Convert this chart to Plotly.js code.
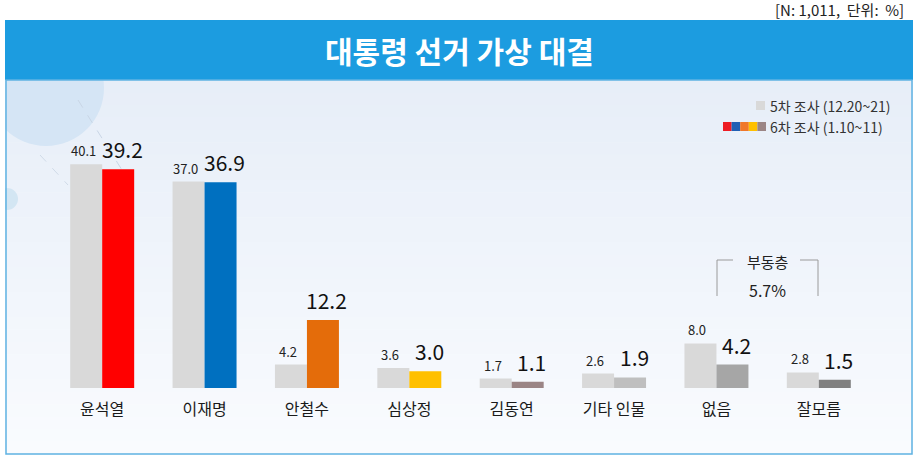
<!DOCTYPE html>
<html>
<head>
<meta charset="utf-8">
<script src="https://cdn.plot.ly/plotly-3.0.1.min.js"></script>
<style>
  body { margin: 0; background: #fff; }
  #plot { width: 919px; height: 458px; }
</style>
</head>
<body>
<div id="plot"></div>
<script>
var categories = ['윤석열', '이재명', '안철수', '심상정', '김동연', '기타 인물', '없음', '잘모름'];
var wave5 = [40.1, 37.0, 4.2, 3.6, 1.7, 2.6, 8.0, 2.8];
var wave6 = [39.2, 36.9, 12.2, 3.0, 1.1, 1.9, 4.2, 1.5];
var wave6Colors = ['#ff0000', '#0070c0', '#e46c0a', '#ffc000', '#9b8585', '#bfbfbf', '#a6a6a6', '#808080'];
var wave5Name = '5차 조사 (12.20~21)';
var wave6Name = '6차 조사 (1.10~11)';
var undecided = '5.7%';

var W = 919, H = 458;
var L = 51, R = 870, T = 137, B = 388;
// pixel -> paper helpers
function px(x) { return (x - L) / (R - L); }
function py(y) { return (B - y) / (B - T); }

var font = '"Noto Sans CJK KR", "Noto Sans", sans-serif';

var trace5 = {
    x: categories,
    y: wave5,
    type: 'bar',
    name: wave5Name,
    marker: { color: '#d9d9d9' },
    hoverinfo: 'skip'
};
var trace6 = {
    x: categories,
    y: wave6,
    type: 'bar',
    name: wave6Name,
    marker: { color: wave6Colors },
    hoverinfo: 'skip'
};

function mix(a, b, t) {
    var c = [0, 2, 4].map(function (k) {
        var va = parseInt(a.substr(1 + k, 2), 16), vb = parseInt(b.substr(1 + k, 2), 16);
        return Math.round(va + (vb - va) * t);
    });
    return 'rgb(' + c.join(',') + ')';
}

var shapes = [];
// panel background, soft vertical gradient
var bands = 30, top0 = 80, bot0 = 454;
for (var k = 0; k < bands; k++) {
    var y0 = top0 + (bot0 - top0) * k / bands;
    var y1 = top0 + (bot0 - top0) * (k + 1) / bands;
    shapes.push({ type: 'rect', xref: 'paper', yref: 'paper', layer: 'below',
        x0: px(5), x1: px(913), y0: py(y1 + 0.5), y1: py(y0),
        fillcolor: mix('#e7eef8', '#f9fbfe', k / (bands - 1)), line: { width: 0 } });
}
// decorative circles
shapes.push({ type: 'circle', xref: 'paper', yref: 'paper', layer: 'below',
    x0: px(-12), x1: px(104), y0: py(146), y1: py(30),
    fillcolor: '#d5e5f5', line: { width: 0 } });
shapes.push({ type: 'circle', xref: 'paper', yref: 'paper', layer: 'below',
    x0: px(-4), x1: px(18), y0: py(210), y1: py(188),
    fillcolor: '#d3e6f3', line: { width: 0 } });
shapes.push({ type: 'line', xref: 'paper', yref: 'paper', layer: 'below',
    x0: px(78), x1: px(122), y0: py(100), y1: py(170),
    line: { color: '#c9d6e6', width: 1, dash: 'dash' } });
shapes.push({ type: 'line', xref: 'paper', yref: 'paper', layer: 'below',
    x0: px(40), x1: px(68), y0: py(155), y1: py(185),
    line: { color: '#d0dbe8', width: 1, dash: 'dash' } });
// white margin left of panel, title bar, panel border
shapes.push({ type: 'rect', xref: 'paper', yref: 'paper', layer: 'below',
    x0: px(-20), x1: px(5), y0: py(458), y1: py(0),
    fillcolor: '#ffffff', line: { width: 0 } });
shapes.push({ type: 'rect', xref: 'paper', yref: 'paper', layer: 'below',
    x0: px(5), x1: px(913), y0: py(80), y1: py(20),
    fillcolor: '#1c9ce0', line: { width: 0 } });
shapes.push({ type: 'rect', xref: 'paper', yref: 'paper', layer: 'below',
    x0: px(6), x1: px(912), y0: py(454), y1: py(80),
    fillcolor: 'rgba(0,0,0,0)', line: { color: '#5fb3e2', width: 1.5 } });
// legend swatch for wave 5
shapes.push({ type: 'rect', xref: 'paper', yref: 'paper',
    x0: px(756), x1: px(765), y0: py(110), y1: py(101),
    fillcolor: '#d9d9d9', line: { width: 0 } });
// coloured mini swatches for wave 6 legend
var legendColors = ['#ed1c24', '#1f5fb4', '#f0782a', '#ffc000', '#9b8585'];
for (var i = 0; i < legendColors.length; i++) {
    shapes.push({ type: 'rect', xref: 'paper', yref: 'paper',
        x0: px(723 + i * 8.6), x1: px(723 + (i + 1) * 8.6), y0: py(131), y1: py(122),
        fillcolor: legendColors[i], line: { width: 0 } });
}
// undecided bracket
shapes.push({ type: 'path', xref: 'paper', yref: 'paper',
    path: 'M ' + px(733) + ' ' + py(260) + ' L ' + px(717) + ' ' + py(260) + ' L ' + px(717) + ' ' + py(296),
    line: { color: '#9a9a9a', width: 1 } });
shapes.push({ type: 'path', xref: 'paper', yref: 'paper',
    path: 'M ' + px(800) + ' ' + py(260) + ' L ' + px(818) + ' ' + py(260) + ' L ' + px(818) + ' ' + py(296),
    line: { color: '#9a9a9a', width: 1 } });

function note(text, x, y, size, color, anchor, weight) {
    return { text: text, xref: 'paper', yref: 'paper', x: px(x), y: py(y),
        xanchor: anchor || 'center', yanchor: 'middle', showarrow: false,
        font: { size: size, color: color, family: font, weight: weight || 'normal' } };
}

var annotations = [
    note('대통령 선거 가상 대결', 459, 50, 30, '#ffffff', 'center', 'bold'),
    note('[N: 1,011,  단위:  %]', 906, 9, 15, '#222', 'right'),
    note(wave5Name, 768, 106, 14, '#333', 'left'),
    note(wave6Name, 768, 127, 14, '#333', 'left'),
    note('부동층', 767, 261, 15, '#222'),
    note(undecided, 767, 290, 16, '#222')
];

// value labels, placed on the data scale above each bar
categories.forEach(function (c, j) {
    annotations.push({ x: j, y: wave5[j], xref: 'x', yref: 'y', text: wave5[j].toFixed(1),
        xanchor: 'center', yanchor: 'bottom', xshift: -19, yshift: 2, showarrow: false,
        font: { size: 13, color: '#222', family: font } });
    annotations.push({ x: j, y: wave6[j], xref: 'x', yref: 'y', text: wave6[j].toFixed(1),
        xanchor: 'center', yanchor: 'bottom', xshift: 20, yshift: 3, showarrow: false,
        font: { size: 21, color: '#111', family: font } });
});

var layout = {
    width: W,
    height: H,
    margin: { l: L, r: W - R, t: T, b: H - B },
    paper_bgcolor: '#ffffff',
    plot_bgcolor: 'rgba(0,0,0,0)',
    barmode: 'group',
    bargap: 0.375,
    bargroupgap: 0,
    showlegend: false,
    xaxis: {
        type: 'category',
        showgrid: false,
        showline: false,
        zeroline: false,
        ticks: '',
        ticklabelstandoff: 10,
        tickfont: { size: 16, color: '#1a1a1a', family: font }
    },
    yaxis: {
        range: [0, 45],
        visible: false,
        showgrid: false,
        zeroline: false
    },
    shapes: shapes,
    annotations: annotations
};

Plotly.newPlot('plot', [trace5, trace6], layout, { displayModeBar: false, staticPlot: true });
</script>
</body>
</html>
